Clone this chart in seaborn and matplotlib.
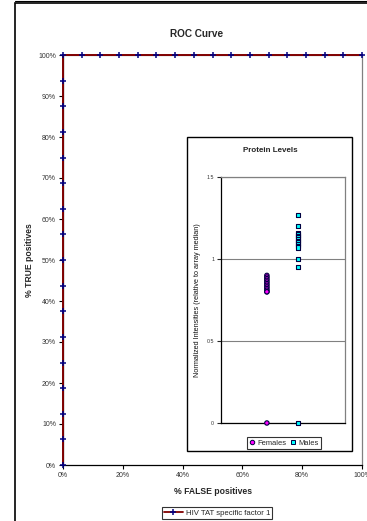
import matplotlib
matplotlib.use("Agg")
import matplotlib.pyplot as plt
import seaborn as sns
import pandas as pd
from matplotlib.patches import Rectangle
from matplotlib.lines import Line2D
from matplotlib.ticker import FuncFormatter

# ---------------- data ----------------
roc_fpr = [0, 0, 0, 0, 0, 0, 0, 0, 0, 0, 0, 0, 0, 0, 0, 0, 0,
           6.25, 12.5, 18.75, 25, 31.25, 37.5, 43.75, 50, 56.25, 62.5,
           68.75, 75, 81.25, 87.5, 93.75, 100]
roc_tpr = [0, 6.25, 12.5, 18.75, 25, 31.25, 37.5, 43.75, 50, 56.25, 62.5,
           68.75, 75, 81.25, 87.5, 93.75, 100,
           100, 100, 100, 100, 100, 100, 100, 100, 100, 100,
           100, 100, 100, 100, 100, 100]
roc_series = "HIV TAT specific factor 1"

females = [0.90, 0.89, 0.88, 0.87, 0.86, 0.85, 0.84, 0.83, 0.82, 0.81, 0.80, 0.80, 0.0]
males = [1.27, 1.20, 1.16, 1.15, 1.14, 1.13, 1.12, 1.11, 1.10, 1.09, 1.08, 1.07, 1.00, 0.95, 0.0]
group_names = ["Females", "Males"]
group_x = [1, 2]

x_ticks = [0, 20, 40, 60, 80, 100]
y_ticks = [0, 10, 20, 30, 40, 50, 60, 70, 80, 90, 100]
inset_yticks = [0, 0.5, 1, 1.5]
inset_yticklabels = ["0", "0.5", "1", "1.5"]

# ---------------- style ----------------
sns.set_style("white")
plt.rcParams['font.family'] = ['Liberation Sans', 'DejaVu Sans']

W, H = 367, 521
fig = plt.figure(figsize=(W / 100, H / 100), dpi=100)

def fbox(x0, y0, x1, y1):
    return [x0 / W, 1 - y1 / H, (x1 - x0) / W, (y1 - y0) / H]

# outer chart border
fig.patches.append(Rectangle((15 / W, -0.05), 1.2, (1 - 3 / H) + 0.05,
                             transform=fig.transFigure, fill=False,
                             edgecolor="black", linewidth=1.2, zorder=0))
fig.lines.append(Line2D([15 / W, 1.0], [1 - 0.5 / H, 1 - 0.5 / H],
                        transform=fig.transFigure, color="black", lw=0.8))

# ---------------- main ROC axes ----------------
ax = fig.add_axes(fbox(63, 55, 362, 465))
df_roc = pd.DataFrame({"fpr": roc_fpr, "tpr": roc_tpr, "series": roc_series})
sns.lineplot(data=df_roc, x="fpr", y="tpr", ax=ax, sort=False, estimator=None,
             color="#800000", linewidth=1.4, marker="+", markersize=5,
             markeredgecolor="#000080", markeredgewidth=1.1, clip_on=False,
             legend=False, zorder=5)
ax.set_xlim(0, 100)
ax.set_ylim(0, 100)
ax.set_xticks(x_ticks)
ax.set_yticks(y_ticks)
pct = FuncFormatter(lambda v, p: f"{int(v)}%")
ax.xaxis.set_major_formatter(pct)
ax.yaxis.set_major_formatter(pct)
ax.tick_params(axis="both", direction="out", length=3, width=0.8,
               labelsize=5, colors="black", pad=2, bottom=True, left=True)
for lbl in ax.get_xticklabels() + ax.get_yticklabels():
    lbl.set_color("#333333")
ax.spines["left"].set_color("black")
ax.spines["bottom"].set_color("black")
ax.spines["top"].set_color("#808080")
ax.spines["right"].set_color("#808080")
for s in ax.spines.values():
    s.set_linewidth(0.9)
ax.set_xlabel("% FALSE positives", fontsize=6.2, fontweight="bold", labelpad=6)
ax.set_ylabel("% TRUE positives", fontsize=6.2, fontweight="bold", labelpad=3)
ax.grid(False)
fig.text(197 / W, 1 - 34 / H, "ROC Curve", ha="center", va="center",
         fontsize=7.2, fontweight="bold")

roc_handle = Line2D([], [], color="#800000", lw=1.3, marker="+", markersize=5,
                    markeredgecolor="#000080", markeredgewidth=1.1)
leg = fig.legend([roc_handle], [roc_series], loc="center",
                 bbox_to_anchor=(217 / W, 1 - 513 / H), fontsize=5.6,
                 frameon=True, fancybox=False, edgecolor="black",
                 handlelength=2.4, borderpad=0.3, handletextpad=0.4)
leg.get_frame().set_linewidth(0.8)

# ---------------- inset chart ----------------
fig.patches.append(Rectangle((187 / W, 1 - 451 / H), (352 - 187) / W, (451 - 137) / H,
                             transform=fig.transFigure, facecolor="white",
                             edgecolor="black", linewidth=1.0, zorder=10))
fig.text(270 / W, 1 - 150 / H, "Protein Levels", ha="center", va="center",
         fontsize=5.8, fontweight="bold", zorder=11)

ax2 = fig.add_axes(fbox(221, 177, 345, 423), zorder=12)
df_p = pd.DataFrame({
    "x": [group_x[0]] * len(females) + [group_x[1]] * len(males),
    "value": females + males,
    "group": [group_names[0]] * len(females) + [group_names[1]] * len(males),
})
sns.scatterplot(data=df_p, x="x", y="value", hue="group", style="group",
                markers={"Females": "o", "Males": "s"},
                palette={"Females": "#FF00FF", "Males": "#00FFFF"},
                s=10, linewidth=0.8, edgecolor="#000040", ax=ax2,
                clip_on=False, zorder=5, legend=False)
ax2.set_xlim(-0.48, 3.52)
ax2.set_ylim(0, 1.5)
ax2.set_xticks([])
ax2.set_yticks(inset_yticks)
ax2.set_yticklabels(inset_yticklabels)
ax2.tick_params(axis="y", direction="out", length=3, width=0.8,
                labelsize=3.8, pad=2, left=True)
for lbl in ax2.get_yticklabels():
    lbl.set_color("#333333")
ax2.yaxis.grid(True, color="#808080", linewidth=0.8)
ax2.set_axisbelow(True)
ax2.spines["left"].set_color("black")
ax2.spines["bottom"].set_color("black")
ax2.spines["top"].set_color("#808080")
ax2.spines["right"].set_color("#808080")
for s in ax2.spines.values():
    s.set_linewidth(0.9)
ax2.set_xlabel("")
ax2.set_ylabel("Normalized Intensities (relative to array median)",
               fontsize=5.2, fontweight="normal", labelpad=4, color="#111111")

h_f = Line2D([], [], linestyle="", marker="o", markersize=3.2,
             markerfacecolor="#FF00FF", markeredgecolor="#000040", markeredgewidth=0.7)
h_m = Line2D([], [], linestyle="", marker="s", markersize=3.2,
             markerfacecolor="#00FFFF", markeredgecolor="#000040", markeredgewidth=0.7)
leg2 = fig.legend([h_f, h_m], group_names, loc="center",
                  bbox_to_anchor=(283.5 / W, 1 - 443 / H), ncol=2, fontsize=5.4,
                  frameon=True, fancybox=False, edgecolor="black",
                  handlelength=0.8, handletextpad=0.3, columnspacing=0.5,
                  borderpad=0.3)
leg2.get_frame().set_linewidth(0.8)
leg2.set_zorder(20)

fig.savefig("out.png", dpi=100)
